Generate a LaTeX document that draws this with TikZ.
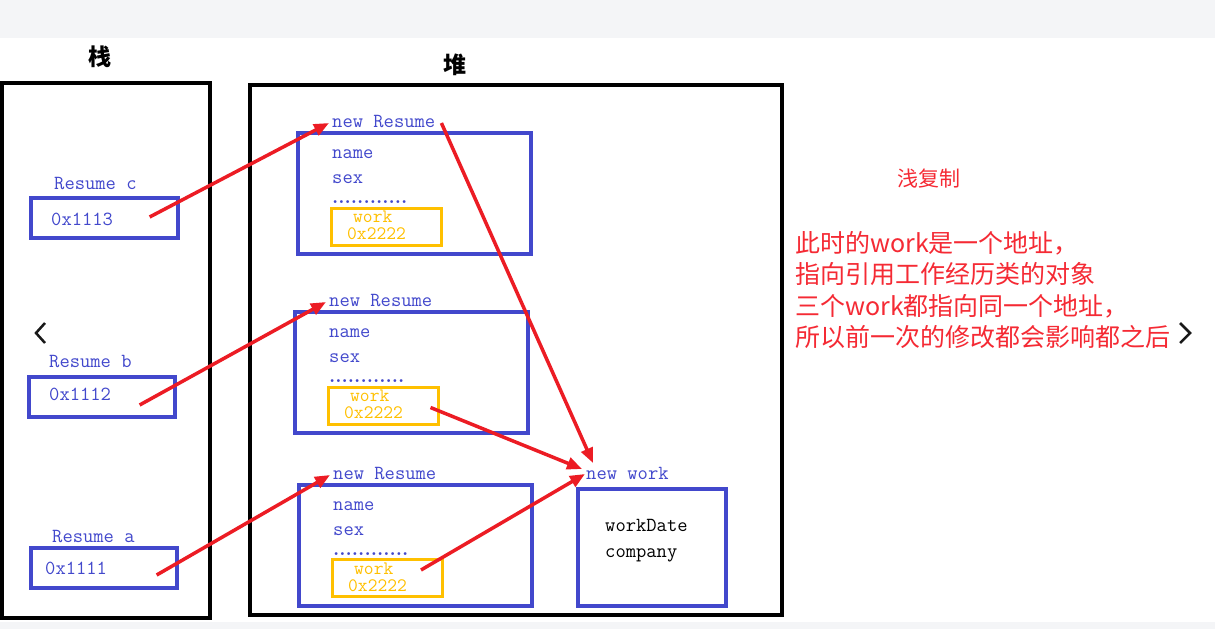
\documentclass[tikz,border=0pt]{standalone}
\usepackage{fontspec}
\usepackage{tikz}
\usetikzlibrary{arrows.meta,positioning,calc}
\newfontfamily\cjk{Noto Sans CJK SC}
\definecolor{objblue}{RGB}{66,72,204}
\definecolor{workgold}{RGB}{255,192,0}
\definecolor{ptrred}{RGB}{236,28,36}
\definecolor{notered}{RGB}{245,42,52}
\definecolor{barbg}{RGB}{244,245,247}

\begin{document}
\begin{tikzpicture}[x=1pt, y=-1pt, >={Triangle[length=15pt,width=12pt]},
  every node/.style={inner sep=0pt, font=\fontsize{20}{24}\ttfamily},
  lbl/.style={anchor=base west, text=objblue},
  wtxt/.style={anchor=base west, text=workgold, font=\fontsize{19}{22}\ttfamily},
  dotrow/.style={anchor=base west, text=objblue, font=\fontsize{20}{24}\rmfamily\bfseries},
  area/.style={draw=black, line width=4pt},
  objbox/.style={draw=objblue, line width=3.3pt},
  workbox/.style={draw=workgold, line width=3pt, minimum width=110, minimum height=37},
  ptr/.style={->, draw=ptrred, line width=3.5pt},
  chev/.style={draw=black!90, line width=2.5pt}]
% page and bars
\useasboundingbox (0,0) rectangle (1215,629);
\fill[white] (0,0) rectangle (1215,629);
\fill[barbg] (0,0) rectangle (1215,38);
\fill[barbg] (0,622) rectangle (1215,629);

% stack and heap areas
\node[area, minimum width=208, minimum height=535] (stack) at (106,350.5) {};
\node[area, minimum width=532, minimum height=530] (heap) at (516,350) {};
\node[font=\fontsize{23}{23}\cjk\bfseries] (stacktitle) at (100,57) {栈};
\node[font=\fontsize{23}{23}\cjk\bfseries] (heaptitle) at (455,65) {堆};

% references on the stack
\node[lbl] (namec) at (54,189) {Resume c};
\node[objbox, minimum width=147, minimum height=40] (addrc) at (104.5,218) {};
\node[lbl] (valc) at (51,225) {0x1113};
\node[lbl] (nameb) at (49,367) {Resume b};
\node[objbox, minimum width=146, minimum height=40] (addrb) at (102,397) {};
\node[lbl] (valb) at (49,400) {0x1112};
\node[lbl] (namea) at (52,542) {Resume a};
\node[objbox, minimum width=146, minimum height=40] (addra) at (104,568) {};
\node[lbl] (vala) at (45,574) {0x1111};

% first resume object
\node[lbl] (title1) at (332,127) {new Resume};
\node[objbox, minimum width=233, minimum height=121] (obj1) at (414.5,193.5) {};
\node[lbl] (fname1) at (332,158) {name};
\node[lbl] (fsex1) at (332,183) {sex};
\node[dotrow] (dots1) at (332,203) {............};
\node[workbox] (wbox1) at (386,226.5) {};
\node[wtxt] (wlbl1) at (353,222) {work};
\node[wtxt] (wval1) at (347,239) {0x2222};

% second resume object
\node[lbl] (title2) at (329,306) {new Resume};
\node[objbox, minimum width=233, minimum height=121] (obj2) at (411.5,372.5) {};
\node[lbl] (fname2) at (329,337) {name};
\node[lbl] (fsex2) at (329,362) {sex};
\node[dotrow] (dots2) at (329,382) {............};
\node[workbox] (wbox2) at (383,405.5) {};
\node[wtxt] (wlbl2) at (350,401) {work};
\node[wtxt] (wval2) at (344,418) {0x2222};

% third resume object
\node[lbl] (title3) at (333,479) {new Resume};
\node[objbox, minimum width=233, minimum height=121] (obj3) at (415.5,545.5) {};
\node[lbl] (fname3) at (333,510) {name};
\node[lbl] (fsex3) at (333,535) {sex};
\node[dotrow] (dots3) at (333,555) {............};
\node[workbox] (wbox3) at (387.5,578) {};
\node[wtxt] (wlbl3) at (354,574) {work};
\node[wtxt] (wval3) at (348,591) {0x2222};

% shared work object
\node[lbl] (wtitle) at (586,479) {new work};
\node[objbox, minimum width=148, minimum height=117] (wobj) at (652,547.5) {};
\node[anchor=base west] (fdate) at (605,531) {workDate};
\node[anchor=base west] (fcomp) at (605,557) {company};

% pointers
\draw[ptr] ([xshift=-30pt,yshift=1pt]addrc.east) -- ([xshift=-3pt,yshift=4pt]title1.base west);
\draw[ptr] ([xshift=-37pt,yshift=-8pt]addrb.east) -- ([xshift=-3pt,yshift=4pt]title2.base west);
\draw[ptr] ([xshift=-22pt,yshift=-7pt]addra.east) -- ([xshift=-3pt,yshift=4pt]title3.base west);
\draw[ptr] ([xshift=6pt,yshift=4pt]title1.base east) -- ([xshift=7pt,yshift=16pt]wtitle.base west);
\draw[ptr] ([xshift=-9pt,yshift=-2pt]wbox2.east) -- ([xshift=-4pt,yshift=10pt]wtitle.base west);
\draw[ptr] ([xshift=-23pt,yshift=8pt]wbox3.east) -- ([xshift=-1pt,yshift=5pt]wtitle.base west);

% note
\node[text=notered, font=\fontsize{21}{21}\cjk] (notetitle) at (929,179) {浅复制};
\node[anchor=west, align=left, text=notered, font=\fontsize{25}{31.5}\cjk] (notebody) at (795,290)
  {此时的work是一个地址，\\指向引用工作经历类的对象\\三个work都指向同一个地址，\\所以前一次的修改都会影响都之后};

% carousel marks
\draw[chev] (45,323) -- (36,333) -- (45,343);
\draw[chev] (1180,323) -- (1190,333) -- (1180,343);
\end{tikzpicture}
\end{document}
